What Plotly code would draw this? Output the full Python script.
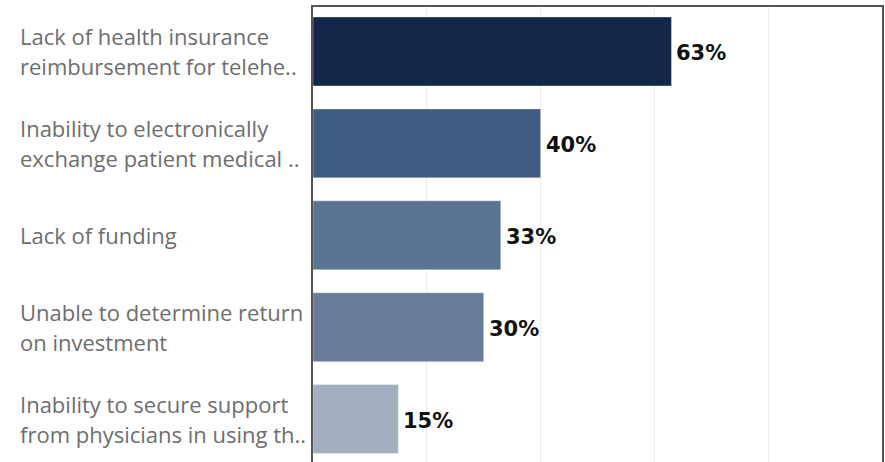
import plotly.graph_objects as go

# Barriers to telehealth adoption (share of respondents)
categories = [
    "Lack of health insurance\nreimbursement for telehe..",
    "Inability to electronically\nexchange patient medical ..",
    "Lack of funding",
    "Unable to determine return\non investment",
    "Inability to secure support\nfrom physicians in using th..",
]
values = [0.63, 0.40, 0.33, 0.30, 0.15]
value_labels = ["63%", "40%", "33%", "30%", "15%"]
bar_colors = ["#11284a", "#405b81", "#5a7594", "#677d9b", "#a3afc0"]

fig = go.Figure(
    go.Bar(
        x=values,
        y=list(range(len(categories))),
        orientation="h",
        width=0.75,
        marker=dict(color=bar_colors, line=dict(color="rgba(255,255,255,0.35)", width=1)),
        hoverinfo="skip",
    )
)

annotations = []
label_x = (18 - 313) / 569  # left edge of category text, in paper units
for i, (cat, val, lab) in enumerate(zip(categories, values, value_labels)):
    lines = cat.split("\n")
    n = len(lines)
    for j, line in enumerate(lines):
        offset = (j - (n - 1) / 2) * 30
        annotations.append(dict(
            x=label_x, xref="paper", y=i, yref="y",
            text=line, showarrow=False, xanchor="left", yanchor="middle",
            yshift=-offset, font=dict(family="Open Sans", size=22, color="#6e6e6e"),
        ))
    annotations.append(dict(
        x=val, xref="x", y=i, yref="y", text=lab, showarrow=False,
        xanchor="left", yanchor="middle", xshift=3, yshift=-2,
        font=dict(family="DejaVu Sans", size=21, color="#111111", weight="bold"),
    ))

fig.update_layout(
    width=885, height=462,
    margin=dict(l=313, r=3, t=7, b=0),
    paper_bgcolor="white", plot_bgcolor="white",
    showlegend=False,
    annotations=annotations,
    xaxis=dict(
        range=[0, 1], side="top", showticklabels=False, ticks="",
        tickvals=[0.2, 0.4, 0.6, 0.8], showgrid=True, gridcolor="#ececec", gridwidth=1,
        zeroline=False, showline=True, linecolor="#555555", linewidth=2,
    ),
    yaxis=dict(
        range=[4.467, -0.484], showticklabels=False, ticks="", showgrid=False,
        zeroline=False, showline=True, mirror=True, linecolor="#555555", linewidth=2,
    ),
)

fig.write_html("out.html")
